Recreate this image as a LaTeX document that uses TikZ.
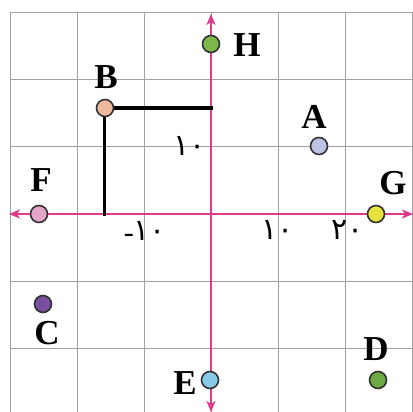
\documentclass[tikz,border=0pt]{standalone}
\usepackage{fontspec}
\setmainfont{Liberation Serif}
\newfontfamily\persfont[Script=Arabic]{DejaVu Sans}
\usetikzlibrary{arrows.meta}
\definecolor{axiscol}{HTML}{E03A8C}
\definecolor{gridcol}{HTML}{A0A0A0}
\definecolor{cH}{HTML}{7DB84A}
\definecolor{cB}{HTML}{EDBB9C}
\definecolor{cA}{HTML}{BCC2E4}
\definecolor{cF}{HTML}{E4A6C6}
\definecolor{cG}{HTML}{E8E23E}
\definecolor{cC}{HTML}{7A4E9E}
\definecolor{cD}{HTML}{6DAA42}
\definecolor{cE}{HTML}{86CBEA}
\tikzset{
  pt/.style={circle, draw=black!80, line width=1.6pt, minimum size=17pt, inner sep=0pt},
  lab/.style={font=\fontsize{35}{35}\selectfont\bfseries, inner sep=0pt},
  tick/.style={font=\fontsize{30}{30}\selectfont, inner sep=0pt},
  axis/.style={axiscol, line width=2pt, -{Stealth[length=11pt,width=9pt,inset=3pt]}},
  gridline/.style={gridcol, line width=1pt},
  guide/.style={black, line width=3.2pt}
}
\begin{document}
\begin{tikzpicture}[x=1pt,y=-1pt]
\useasboundingbox (0,0) rectangle (413,412);
\fill[white] (0,0) rectangle (413,412);
% grid
\foreach \gx in {10,77,144,211,278,345,412} \draw[gridline] (\gx,13) -- (\gx,412);
\foreach \gy in {13,80,147,214,281,348} \draw[gridline] (10,\gy) -- (413,\gy);
% axes
\coordinate (xo) at (211,214);
\coordinate (xl) at (9,214);
\coordinate (xr) at (413,214);
\coordinate (yt) at (211,14);
\coordinate (yb) at (211,412);
\draw[axis] (xo) -- (xl);
\draw[axis] (xo) -- (xr);
\draw[axis] (xo) -- (yt);
\draw[axis] (xo) -- (yb);
% guide lines
\coordinate (by) at (213,108);
\coordinate (bx) at (104.5,215.5);
\draw[guide] (105,108) -- (by);
\draw[guide] (104.5,108) -- (bx);
% points
\node[pt, fill=cH] (H) at (211,44) {};
\node[pt, fill=cB] (B) at (105,108) {};
\node[pt, fill=cA] (A) at (319,146) {};
\node[pt, fill=cF] (F) at (39,214) {};
\node[pt, fill=cG] (G) at (376,214) {};
\node[pt, fill=cC] (C) at (43,304) {};
\node[pt, fill=cD] (D) at (378,380) {};
\node[pt, fill=cE] (E) at (210,380) {};
% labels
\node[lab] (lH) at (247,45) {H};
\node[lab] (lB) at (106,77) {B};
\node[lab] (lA) at (314,117) {A};
\node[lab] (lF) at (41,180) {F};
\node[lab] (lG) at (393,183) {G};
\node[lab] (lC) at (47,333) {C};
\node[lab] (lD) at (376,349) {D};
\node[lab] (lE) at (185,383) {E};
% ticks
\node[tick] (ty) at (190,146) {\persfont ۱۰};
\node[tick] (tm) at (145,232) {\raisebox{-2pt}{-}\persfont ۱۰};
\node[tick] (t1) at (278,230) {\persfont ۱۰};
\node[tick] (t2) at (348,230) {\persfont ۲۰};
\end{tikzpicture}
\end{document}
